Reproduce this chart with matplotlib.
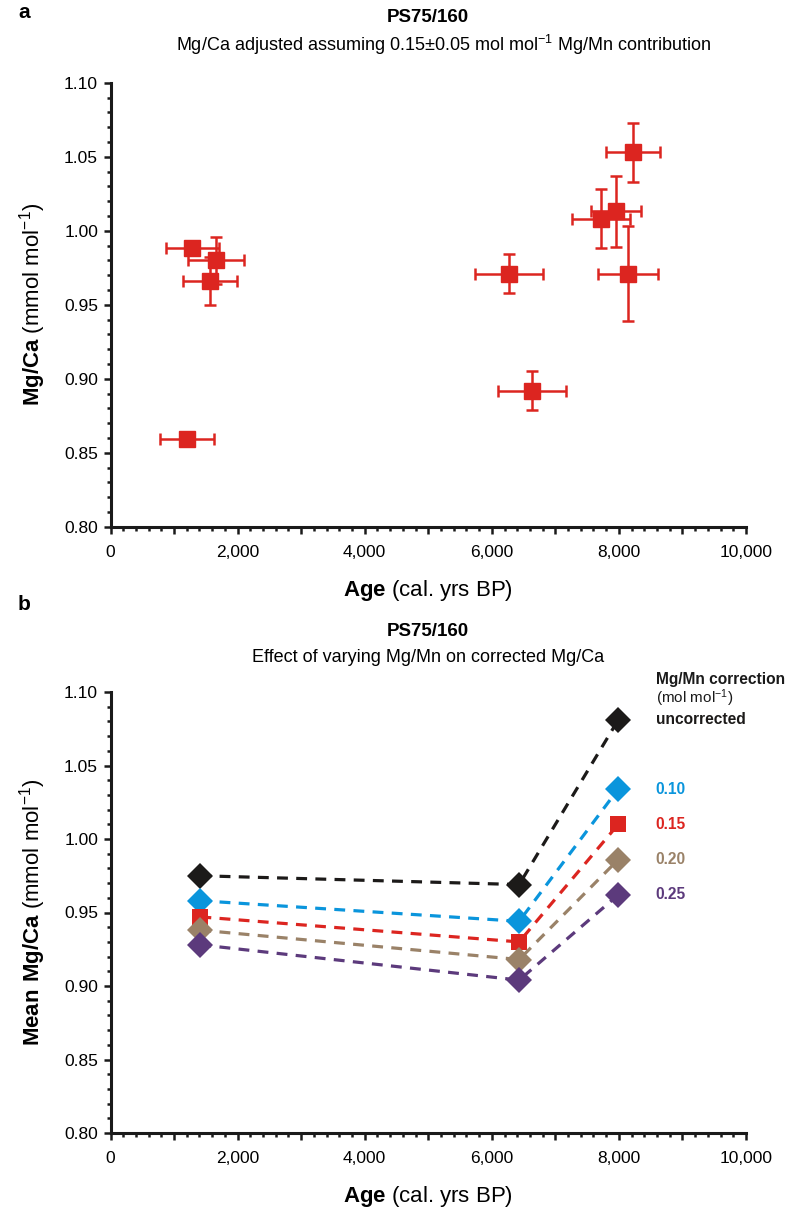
import numpy as np
import matplotlib.pyplot as plt
from matplotlib.ticker import MultipleLocator, FuncFormatter

# ── Data: panel a (Mg/Ca adjusted, 0.15±0.05 Mg/Mn) ──────────
age_a      = [1200, 1290, 1660, 1565, 6265, 6630, 7715, 7950, 8215, 8140]
age_err_a  = [425, 420, 445, 425, 535, 540, 455, 395, 425, 475]
mgca_a     = [0.859, 0.988, 0.980, 0.966, 0.971, 0.892, 1.008, 1.013, 1.053, 0.971]
mgca_err_a = [0.004, 0.004, 0.016, 0.016, 0.013, 0.013, 0.020, 0.024, 0.020, 0.032]

# ── Data: panel b (mean Mg/Ca for each correction) ───────────
age_b        = [1415, 6430, 7990]
corr_labels  = ['uncorrected', '0.10', '0.15', '0.20', '0.25']
mean_uncorr  = [0.975, 0.969, 1.081]
mean_010     = [0.958, 0.944, 1.034]
mean_015     = [0.947, 0.930, 1.010]
mean_020     = [0.938, 0.918, 0.986]
mean_025     = [0.928, 0.904, 0.962]
corr_values  = [mean_uncorr, mean_010, mean_015, mean_020, mean_025]
corr_colors  = ['#1c1a19', '#0a95dc', '#dc2520', '#9a8268', '#5c3a7c']
corr_markers = ['D', 'D', 's', 'D', 'D']

# ── Style ────────────────────────────────────────────────────
plt.rcParams['font.family'] = ['Liberation Sans', 'DejaVu Sans']
plt.rcParams['mathtext.fontset'] = 'custom'
plt.rcParams['mathtext.rm'] = 'Liberation Sans'
plt.rcParams['mathtext.bf'] = 'Liberation Sans:bold'
plt.rcParams['mathtext.default'] = 'regular'

W, H = 800, 1226
fig = plt.figure(figsize=(W / 100, H / 100), dpi=100)


def fx(px):
    return px / W


def fy(py):
    return 1 - py / H


def style_axes(ax):
    for s in ['top', 'right']:
        ax.spines[s].set_visible(False)
    for s in ['left', 'bottom']:
        ax.spines[s].set_linewidth(2.2)
        ax.spines[s].set_color('#1a1a1a')
    ax.set_xlim(0, 10000)
    ax.set_ylim(0.80, 1.10)
    ax.xaxis.set_major_locator(MultipleLocator(1000))
    ax.xaxis.set_minor_locator(MultipleLocator(200))
    ax.yaxis.set_major_locator(MultipleLocator(0.05))
    ax.yaxis.set_minor_locator(MultipleLocator(0.01))
    ax.xaxis.set_major_formatter(FuncFormatter(
        lambda v, p: f'{int(round(v)):,}' if int(round(v)) % 2000 == 0 else ''))
    ax.yaxis.set_major_formatter(FuncFormatter(lambda v, p: f'{v:.2f}'))
    ax.tick_params(which='major', direction='out', length=5, width=1.8,
                   labelsize=12.5, color='#1a1a1a', pad=4)
    ax.tick_params(axis='x', which='major', pad=8)
    ax.tick_params(which='minor', direction='out', length=3.2, width=1.8, color='#1a1a1a')
    ax.set_xlabel(r'$\mathbf{Age}$ (cal. yrs BP)', fontsize=16)
    ax.xaxis.set_label_coords(0.5, -0.115)


# ── Panel a ──────────────────────────────────────────────────
ax1 = fig.add_axes([fx(110.5), fy(526.7), fx(635.5), 444 / H])
style_axes(ax1)
ax1.errorbar(age_a, mgca_a, xerr=age_err_a, yerr=mgca_err_a, fmt='s',
             color='#dc2520', ecolor='#dc2520', markersize=11.5, elinewidth=1.8,
             capsize=4, capthick=1.8, clip_on=False, zorder=3)
ax1.set_ylabel(r'$\mathbf{Mg/Ca}$ (mmol mol$^{-1}$)', fontsize=16)
ax1.yaxis.set_label_coords(-0.098, 0.5)

fig.text(fx(18), fy(12), 'a', fontsize=15, fontweight='bold', ha='left', va='center')
fig.text(fx(428), fy(17), 'PS75/160', fontsize=13.5, fontweight='bold', ha='center', va='center')
fig.text(fx(444), fy(45), r'Mg/Ca adjusted assuming 0.15±0.05 mol mol$^{-1}$ Mg/Mn contribution',
         fontsize=13, ha='center', va='center')

# ── Panel b ──────────────────────────────────────────────────
ax2 = fig.add_axes([fx(110.5), fy(1133), fx(635.5), 441 / H])
style_axes(ax2)
for vals, col, mk, lab in zip(corr_values, corr_colors, corr_markers, corr_labels):
    ms = 11.5 if mk == 's' else 12.8
    ax2.plot(age_b, vals, linestyle=(0, (3.4, 2.6)), linewidth=2.3, color=col,
             marker=mk, markersize=ms, markeredgewidth=0, clip_on=False, zorder=3)
    ax2.annotate(lab, xy=(age_b[-1], vals[-1]), xytext=(27, 0), textcoords='offset points',
                 ha='left', va='center', fontsize=11.2, fontweight='bold', color=col)

ax2.annotate('Mg/Mn correction', xy=(age_b[-1], mean_uncorr[-1]), xytext=(27, 29),
             textcoords='offset points', ha='left', va='center', fontsize=11.2,
             fontweight='bold', color='#1a1a1a')
ax2.annotate(r'(mol mol$^{-1}$)', xy=(age_b[-1], mean_uncorr[-1]), xytext=(27, 16),
             textcoords='offset points', ha='left', va='center', fontsize=11,
             color='#1a1a1a')

ax2.set_ylabel(r'$\mathbf{Mean\ Mg/Ca}$ (mmol mol$^{-1}$)', fontsize=16)
ax2.yaxis.set_label_coords(-0.098, 0.5)

fig.text(fx(18), fy(604), 'b', fontsize=15, fontweight='bold', ha='left', va='center')
fig.text(fx(428), fy(631), 'PS75/160', fontsize=13.5, fontweight='bold', ha='center', va='center')
fig.text(fx(428), fy(657), 'Effect of varying Mg/Mn on corrected Mg/Ca',
         fontsize=13, ha='center', va='center')

fig.savefig('out.png', dpi=100)
